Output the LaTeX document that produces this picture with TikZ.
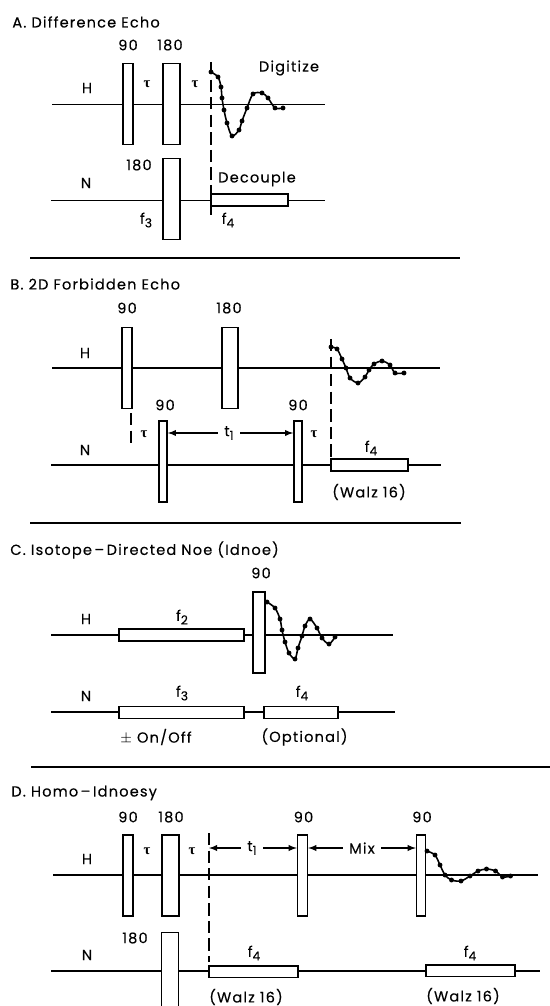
\documentclass[tikz,border=0pt]{standalone}
\usepackage{fontspec}
\setmainfont[LetterSpace=8,FakeBold=.25]{Poppins}
\newfontfamily\taufont{Liberation Serif}
\newcommand{\subf}[1]{f\raisebox{-.45ex}{\scriptsize #1}}
\newcommand{\taumark}{{\taufont\bfseries τ}}
\begin{document}
\begin{tikzpicture}[
    x=.02cm, y=-.02cm,
    every node/.style={font=\fontsize{8.3}{9}\selectfont},
    title/.style={anchor=west, inner sep=0pt},
    hit/.style={inner sep=0pt, minimum size=2.8pt, fill, circle, black},
    fid/.style={line width=.9pt, smooth},
    seqline/.style={line width=.7pt},
    rule/.style={line width=.9pt},
    gate/.style={line width=.8pt, dash pattern=on 7pt off 3pt},
    pulse/.style={draw, fill=white, line width=.9pt, inner sep=0pt},
    narrow/.style={pulse, minimum width=5.6pt, minimum height=46pt},
    wide/.style={pulse, minimum width=9.6pt, minimum height=46pt},
    slim/.style={pulse, minimum width=4.6pt, minimum height=46pt},
    band/.style={pulse, minimum height=6.6pt},
    delay/.style={latex-, line width=.6pt}
        ]

    \path [use as bounding box] (0,0) rectangle (550,1006);

    % A. difference echo
    \node [title] (tA) at (12,22) {A. Difference Echo};
    \coordinate (AH0) at (52,104.5);
    \coordinate (AH1) at (325,104.5);
    \coordinate (AN0) at (51,200.5);
    \coordinate (AN1) at (325,200.5);
    \coordinate (Ad0) at (211,62);
    \coordinate (Ad1) at (211,220);
    \coordinate (Ar0) at (30,258);
    \coordinate (Ar1) at (460,258);

    \draw [seqline] (AH0) -- (AH1);
    \draw [seqline] (AN0) -- (AN1);
    \draw [gate] (Ad0) -- (Ad1);
    \draw [rule] (Ar0) -- (Ar1);

    \node [narrow] (Ap1) at (128,104) {};
    \node [wide] (Ap2) at (171.5,104) {};
    \node [wide] (Ap3) at (171.5,199) {};
    \node [band, minimum width=1.54cm] (Ab1) at (249.5,200) {};

    \node (A90) at (128,45) {90};
    \node (A180) at (170,45) {180};
    \node (AH) at (87,88) {H};
    \node (AN) at (86,183) {N};
    \node (Aa1) at (147,84) {\taumark};
    \node (Aa2) at (195,84) {\taumark};
    \node (Adig) at (289,68) {Digitize};
    \node (A180n) at (139,165) {180};
    \node (Adec) at (257,179) {Decouple};
    \node (Af3) at (146,220) {\subf{3}};
    \node (Af4) at (228,220) {\subf{4}};

    \node [hit] (A1) at (211,72) {};
    \node [hit] (A2) at (218,77) {};
    \node [hit] (A3) at (221,87) {};
    \node [hit] (A4) at (222,98) {};
    \node [hit] (A5) at (224,110) {};
    \node [hit] (A6) at (227,123) {};
    \node [hit] (A7) at (232,136) {};
    \node [hit] (A8) at (239,130) {};
    \node [hit] (A9) at (242,121) {};
    \node [hit] (A10) at (247,108) {};
    \node [hit] (A11) at (253,94) {};
    \node [hit] (A12) at (262,93) {};
    \node [hit] (A13) at (268,98) {};
    \node [hit] (A14) at (275,108) {};
    \node [hit] (A15) at (283,108) {};
    \draw [fid] plot [smooth] coordinates {(A1) (A2) (A3) (A4) (A5) (A6) (A7) (A8) (A9) (A10) (A11) (A12) (A13) (A14) (A15)};

    % B. forbidden echo
    \node [title] (tB) at (10,284) {B. 2D Forbidden Echo};
    \coordinate (BH0) at (52,368);
    \coordinate (BH1) at (440,368);
    \coordinate (BN0) at (51,465);
    \coordinate (BN1) at (441,465);
    \coordinate (Bd0) at (331,339);
    \coordinate (Bd1) at (331,465);
    \coordinate (Bd2) at (131,413);
    \coordinate (Bd3) at (131,443);
    \coordinate (Br0) at (30,523);
    \coordinate (Br1) at (461,523);

    \draw [seqline] (BH0) -- (BH1);
    \draw [seqline] (BN0) -- (BN1);
    \draw [gate] (Bd0) -- (Bd1);
    \draw [gate] (Bd2) -- (Bd3);
    \draw [rule] (Br0) -- (Br1);

    \node [narrow] (Bp1) at (127,368) {};
    \node [wide, minimum width=9pt] (Bp2) at (230,368) {};
    \node [slim] (Bp3) at (163,461.5) {};
    \node [slim] (Bp4) at (298,461.5) {};
    \node [band, minimum width=1.54cm] (Bb1) at (369.5,465) {};

    \node (B901) at (127,308) {90};
    \node (B180) at (229,308) {180};
    \node (B902) at (165,405) {90};
    \node (B903) at (298,405) {90};
    \node (BH) at (85,353) {H};
    \node (BN) at (85,450) {N};
    \node (Ba1) at (144,434) {\taumark};
    \node (Ba2) at (314,434) {\taumark};
    \node (Bt1) at (229,433) {t\raisebox{-.45ex}{\scriptsize 1}};
    \node (Bf4) at (371,448) {\subf{4}};
    \node (Bwz) at (369,492) {(Walz 16)};

    \draw [delay] (Bp3.east |- Bt1) -- (Bt1);
    \draw [delay] (Bp4.west |- Bt1) -- (Bt1);

    \node [hit] (B1) at (331,347) {};
    \node [hit] (B2) at (337,349) {};
    \node [hit] (B3) at (342,359) {};
    \node [hit] (B4) at (346,368) {};
    \node [hit] (B5) at (350,378) {};
    \node [hit] (B6) at (358,383) {};
    \node [hit] (B7) at (365,377) {};
    \node [hit] (B8) at (369,370) {};
    \node [hit] (B9) at (374,364) {};
    \node [hit] (B10) at (382,361) {};
    \node [hit] (B11) at (390,365) {};
    \node [hit] (B12) at (395,373) {};
    \node [hit] (B13) at (404,373) {};
    \draw [fid] plot [smooth] coordinates {(B1) (B2) (B3) (B4) (B5) (B6) (B7) (B8) (B9) (B10) (B11) (B12) (B13)};

    % C. idnoe
    \node [title] (tC) at (10,550) {C. Isotope\,--\,Directed Noe (Idnoe)};
    \coordinate (CH0) at (51,635);
    \coordinate (CH1) at (393,635);
    \coordinate (CN0) at (51,712);
    \coordinate (CN1) at (395,712);
    \coordinate (Cr0) at (31,767);
    \coordinate (Cr1) at (550,767);

    \draw [seqline] (CH0) -- (CH1);
    \draw [seqline] (CN0) -- (CN1);
    \draw [rule] (Cr0) -- (Cr1);

    \node [narrow, minimum width=6.6pt] (Cp1) at (259,632.5) {};
    \node [band, minimum width=2.5cm] (Cb1) at (181.5,635) {};
    \node [band, minimum width=2.5cm] (Cb2) at (181.5,712.5) {};
    \node [band, minimum width=1.47cm] (Cb3) at (301,712.5) {};

    \node (C90) at (261,573) {90};
    \node (CH) at (86,619) {H};
    \node (CN) at (86,696) {N};
    \node (Cf2) at (182,617) {\subf{2}};
    \node (Cf3) at (182,693) {\subf{3}};
    \node (Cf4) at (302,693) {\subf{4}};
    \node (Con) at (156,737) {$\pm$ On/Off};
    \node (Copt) at (304.5,737) {(Optional)};

    \node [hit] (C1) at (267,602) {};
    \node [hit] (C2) at (275,608) {};
    \node [hit] (C3) at (280,619) {};
    \node [hit] (C4) at (282,630) {};
    \node [hit] (C5) at (285,642) {};
    \node [hit] (C6) at (289,653) {};
    \node [hit] (C7) at (295,659) {};
    \node [hit] (C8) at (298,648) {};
    \node [hit] (C9) at (302,636) {};
    \node [hit] (C10) at (305,626) {};
    \node [hit] (C11) at (310,619) {};
    \node [hit] (C12) at (317,628) {};
    \node [hit] (C13) at (322,638) {};
    \node [hit] (C14) at (329,644) {};
    \node [hit] (C15) at (335,637) {};
    \draw [fid] plot [smooth] coordinates {(C1) (C2) (C3) (C4) (C5) (C6) (C7) (C8) (C9) (C10) (C11) (C12) (C13) (C14) (C15)};

    % D. homo-idnoesy
    \node [title] (tD) at (11,793) {D. Homo\,--\,Idnoesy};
    \coordinate (DH0) at (53,875);
    \coordinate (DH1) at (538,875);
    \coordinate (DN0) at (51,971);
    \coordinate (DN1) at (540,971);
    \coordinate (Dd0) at (209,833);
    \coordinate (Dd1) at (209,962);

    \draw [seqline] (DH0) -- (DH1);
    \draw [seqline] (DN0) -- (DN1);
    \draw [gate] (Dd0) -- (Dd1);

    \node [narrow] (Dp1) at (128,875.5) {};
    \node [wide] (Dp2) at (170.5,875.5) {};
    \node [narrow] (Dp3) at (302.5,875.5) {};
    \node [narrow, minimum width=5pt] (Dp4) at (421,875.5) {};
    \node [wide, minimum height=60pt] (Dp5) at (170,985) {};
    \node [band, minimum width=1.78cm] (Db1) at (253.5,971.5) {};
    \node [band, minimum width=1.78cm] (Db2) at (470.5,970.5) {};

    \node (D901) at (128,817) {90};
    \node (D180) at (171,817) {180};
    \node (D902) at (303.5,817) {90};
    \node (D903) at (422,817) {90};
    \node (DH) at (87,859) {H};
    \node (DN) at (87,955) {N};
    \node (Da1) at (147,851) {\taumark};
    \node (Da2) at (192,851) {\taumark};
    \node (Dt1) at (252,848) {t\raisebox{-.45ex}{\scriptsize 1}};
    \node (Dmix) at (362,848) {Mix};
    \node (D180n) at (135,938) {180};
    \node (Df1) at (254,953) {\subf{4}};
    \node (Df2) at (470,953) {\subf{4}};
    \node (Dw1) at (246,997) {(Walz 16)};
    \node (Dw2) at (463,996) {(Walz 16)};

    \draw [delay] (Dd0 |- Dt1) -- (Dt1);
    \draw [delay] (Dp3.west |- Dt1) -- (Dt1);
    \draw [delay] (Dp3.east |- Dmix) -- (Dmix);
    \draw [delay] (Dp4.west |- Dmix) -- (Dmix);

    \node [hit] (D1) at (427,851) {};
    \node [hit] (D2) at (435,855) {};
    \node [hit] (D3) at (440,865) {};
    \node [hit] (D4) at (445,875) {};
    \node [hit] (D5) at (451.5,880) {};
    \node [hit] (D6) at (461,881) {};
    \node [hit] (D7) at (470,876) {};
    \node [hit] (D8) at (478,871) {};
    \node [hit] (D9) at (486.5,869) {};
    \node [hit] (D10) at (495.5,871) {};
    \node [hit] (D11) at (502.5,877) {};
    \node [hit] (D12) at (510.5,876) {};
    \draw [fid] plot [smooth] coordinates {(D1) (D2) (D3) (D4) (D5) (D6) (D7) (D8) (D9) (D10) (D11) (D12)};

\end{tikzpicture}
\end{document}
